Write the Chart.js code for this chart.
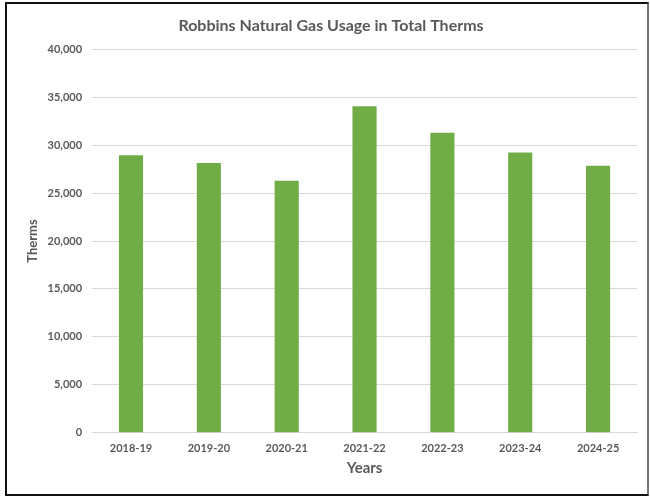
<!DOCTYPE html>
<html lang="en">

<head>
    <meta charset="UTF-8">
    <title>Robbins Natural Gas Usage</title>
    <script src="https://cdn.jsdelivr.net/npm/chart.js"></script>
    <style>
        body {
            margin: 0;
            background-color: #ffffff;
        }

        #frame {
            position: absolute;
            left: 5px;
            top: 2px;
            width: 640px;
            height: 490px;
            border: 2px solid #111;
            border-right-color: #777;
        }

        canvas {
            position: absolute;
            left: 0;
            top: 0;
        }
    </style>
</head>

<body>
    <div id="frame"></div>
    <canvas id="gasChart" width="650" height="497"></canvas>

    <script>
        const years = ["2018-19", "2019-20", "2020-21", "2021-22", "2022-23", "2023-24", "2024-25"];
        const therms = [28950, 28130, 26290, 34050, 31300, 29240, 27850];

        const textColor = "#595959";
        const gridColor = "#d9d9d9";
        const fontName = "Lato, 'Open Sans', sans-serif";

        const ctx = document.getElementById("gasChart").getContext("2d");
        new Chart(ctx, {
            type: "bar",
            data: {
                labels: years,
                datasets: [{
                    label: "Therms",
                    data: therms,
                    backgroundColor: "#70ad47",
                    categoryPercentage: 1,
                    barPercentage: 0.31
                }]
            },
            options: {
                responsive: false,
                animation: false,
                layout: {
                    padding: { top: 8, left: 25, right: 13, bottom: 20 }
                },
                plugins: {
                    legend: { display: false },
                    tooltip: { enabled: false },
                    title: {
                        display: true,
                        text: "Robbins Natural Gas Usage in Total Therms",
                        color: textColor,
                        font: { family: fontName, size: 16, weight: "bold" },
                        padding: { top: 8, bottom: 14 }
                    }
                },
                scales: {
                    x: {
                        grid: { display: false, drawTicks: false },
                        border: { color: gridColor },
                        ticks: {
                            color: textColor,
                            padding: 9,
                            font: { family: fontName, size: 11, weight: "bold" }
                        },
                        title: {
                            display: true,
                            text: "Years",
                            color: textColor,
                            padding: { top: -5, bottom: 0 },
                            font: { family: fontName, size: 15, weight: "bold" }
                        }
                    },
                    y: {
                        min: 0,
                        max: 40000,
                        grid: { color: gridColor, drawTicks: false },
                        border: { display: false },
                        ticks: {
                            stepSize: 5000,
                            color: textColor,
                            padding: 10,
                            font: { family: fontName, size: 11, weight: "bold" },
                            callback: v => v.toLocaleString("en-US")
                        },
                        title: {
                            display: true,
                            text: "Therms",
                            color: textColor,
                            padding: { top: 0, bottom: -3 },
                            font: { family: fontName, size: 13, weight: "bold" }
                        }
                    }
                }
            }
        });
    </script>
</body>

</html>
